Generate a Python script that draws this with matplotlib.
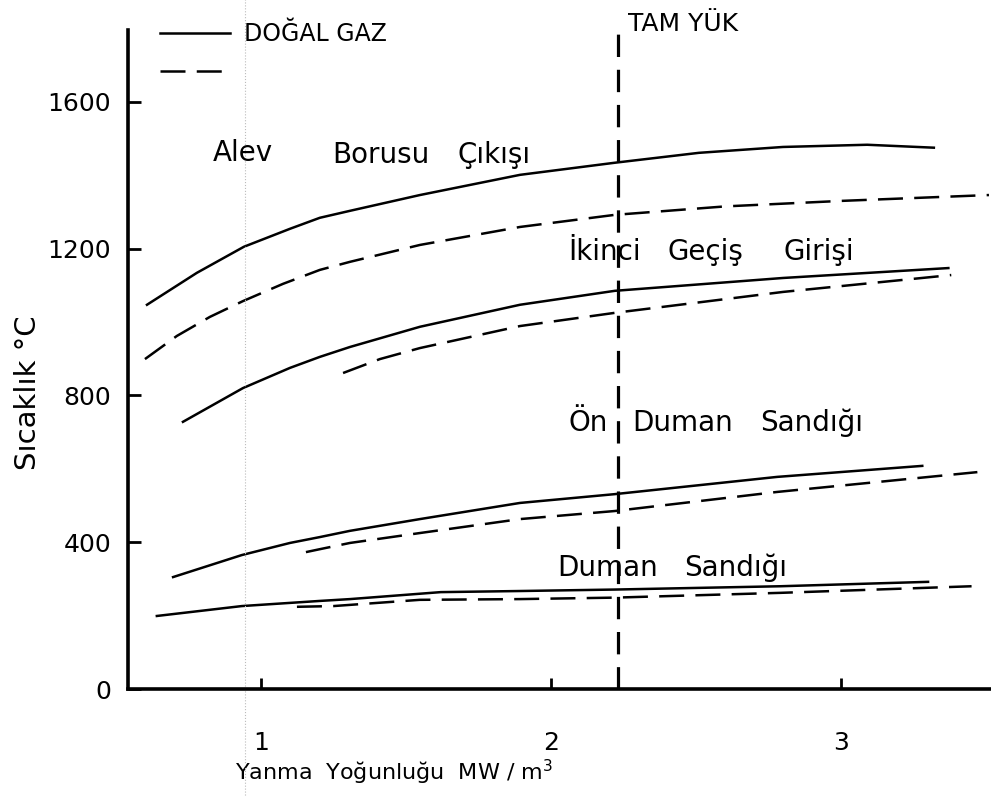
import numpy as np
import matplotlib.pyplot as plt
from matplotlib.lines import Line2D

plt.rcParams['font.family'] = ['DejaVu Sans']

# Alev Borusu Cikisi
alev_gaz_x = [0.607, 0.779, 0.941, 1.10, 1.203, 1.307, 1.548, 1.893, 2.22, 2.51, 2.80, 3.09, 3.32]
alev_gaz_y = [1047, 1134, 1205, 1254, 1284, 1303, 1346, 1401, 1434, 1461, 1477, 1483, 1475]
alev_fuel_x = [0.60, 0.71, 0.824, 0.938, 1.076, 1.203, 1.307, 1.548, 1.893, 2.22, 2.60, 3.00, 3.51]
alev_fuel_y = [899, 962, 1014, 1057, 1104, 1142, 1164, 1210, 1259, 1292, 1315, 1330, 1346]

# Ikinci Gecis Girisi
ikinci_gaz_x = [0.731, 0.938, 1.10, 1.203, 1.307, 1.548, 1.893, 2.22, 2.80, 3.37]
ikinci_gaz_y = [728, 820, 875, 905, 932, 987, 1047, 1085, 1120, 1147]
ikinci_fuel_x = [1.283, 1.41, 1.548, 1.893, 2.22, 2.80, 3.38]
ikinci_fuel_y = [861, 899, 929, 989, 1025, 1082, 1128]

# On Duman Sandigi
on_gaz_x = [0.697, 0.934, 1.10, 1.203, 1.307, 1.548, 1.893, 2.22, 2.78, 3.28]
on_gaz_y = [305, 365, 398, 414, 431, 463, 507, 531, 578, 608]
on_fuel_x = [1.155, 1.203, 1.307, 1.548, 1.893, 2.22, 2.78, 3.47]
on_fuel_y = [373, 381, 398, 425, 463, 485, 537, 591]

# Duman Sandigi
duman_gaz_x = [0.641, 0.934, 1.203, 1.307, 1.62, 1.893, 2.22, 2.79, 3.30]
duman_gaz_y = [199, 226, 240, 245, 264, 267, 271, 280, 292]
duman_fuel_x = [1.124, 1.25, 1.548, 1.893, 2.22, 2.79, 3.45]
duman_fuel_y = [224, 226, 243, 245, 249, 262, 280]

tam_yuk = 2.23
scan_line = 0.945

x_ticks = [1, 2, 3]
y_ticks = [0, 400, 800, 1200, 1600]

fig = plt.figure(figsize=(9.91, 7.97), dpi=100)
ax = fig.add_axes([0.129, 0.1355, 0.871, 0.827])

dash = (0, (10, 4.5))
lw = 1.8
ax.plot(alev_gaz_x, alev_gaz_y, color='k', lw=lw)
ax.plot(alev_fuel_x, alev_fuel_y, color='k', lw=lw, ls=dash)
ax.plot(ikinci_gaz_x, ikinci_gaz_y, color='k', lw=lw)
ax.plot(ikinci_fuel_x, ikinci_fuel_y, color='k', lw=lw, ls=dash)
ax.plot(on_gaz_x, on_gaz_y, color='k', lw=lw)
ax.plot(on_fuel_x, on_fuel_y, color='k', lw=lw, ls=dash)
ax.plot(duman_gaz_x, duman_gaz_y, color='k', lw=lw)
ax.plot(duman_fuel_x, duman_fuel_y, color='k', lw=lw, ls=dash)

ax.axvline(tam_yuk, color='k', lw=2.3, ls=(0, (7, 4)))
ax.axvline(scan_line, ymin=-0.17, ymax=1.05, clip_on=False,
           color='#bbbbbb', lw=0.8, ls=':')

ax.set_xlim(0.541, 3.517)
ax.set_ylim(0, 1796)
ax.set_xticks(x_ticks)
ax.set_yticks(y_ticks)
ax.tick_params(axis='both', direction='in', width=2, labelsize=18)
ax.tick_params(axis='y', length=9, pad=12)
ax.tick_params(axis='x', length=8, pad=30)
for s in ['top', 'right']:
    ax.spines[s].set_visible(False)
for s in ['left', 'bottom']:
    ax.spines[s].set_linewidth(2.6)

ax.set_ylabel('Sıcaklık °C', fontsize=21)
ax.yaxis.set_label_coords(-0.100, 0.449)
ax.set_xlabel(r'Yanma  Yoğunluğu  MW / m$^3$', fontsize=16)
ax.xaxis.set_label_coords(0.308, -0.105)

txt = dict(fontsize=20, va='center', ha='left')
ax.text(0.834, 1461, 'Alev', **txt)
ax.text(1.245, 1455, 'Borusu', **txt)
ax.text(1.679, 1455, 'Çıkışı', **txt)
ax.text(2.059, 1191, 'İkinci', **txt)
ax.text(2.40, 1191, 'Geçiş', **txt)
ax.text(2.80, 1191, 'Girişi', **txt)
ax.text(2.059, 725, 'Ön', **txt)
ax.text(2.28, 725, 'Duman', **txt)
ax.text(2.72, 725, 'Sandığı', **txt)
ax.text(2.02, 330, 'Duman', **txt)
ax.text(2.46, 330, 'Sandığı', **txt)
ax.text(2.266, 1812, 'TAM YÜK', fontsize=18, va='center', ha='left')

handles = [Line2D([], [], color='k', lw=lw), Line2D([], [], color='k', lw=lw, ls=dash)]
ax.legend(handles, ['DOĞAL GAZ', ''], loc='upper left', frameon=False,
          bbox_to_anchor=(160 / 991, 1 - 22 / 797), bbox_transform=fig.transFigure,
          fontsize=17, handlelength=2.95, handletextpad=0.6, labelspacing=0.6,
          borderpad=0, borderaxespad=0)

plt.savefig('out.png', dpi=100)
